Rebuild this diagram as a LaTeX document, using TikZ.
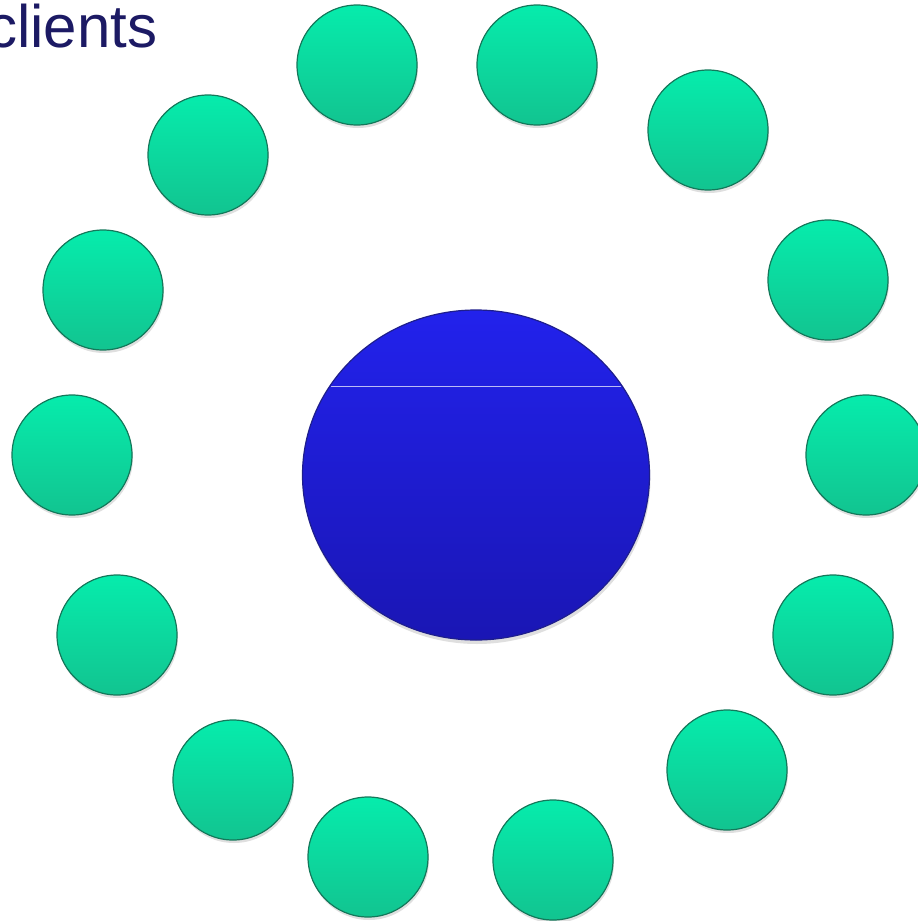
\documentclass[tikz,border=0pt]{standalone}
\usepackage{fontspec}
\setmainfont{Liberation Sans}
\usetikzlibrary{shapes.geometric,shadows}
\definecolor{navytext}{RGB}{28,26,100}
\definecolor{gtop}{RGB}{6,236,172}
\definecolor{gbot}{RGB}{18,196,144}
\definecolor{grim}{RGB}{20,120,90}
\definecolor{btop}{RGB}{34,34,236}
\definecolor{bbot}{RGB}{26,22,180}
\definecolor{brim}{RGB}{30,30,140}
\tikzset{
  gball/.style={circle, inner sep=0pt, minimum size=120pt, top color=gtop, bottom color=gbot,
    draw=grim, line width=1.2pt, drop shadow={opacity=0.25, shadow xshift=1pt, shadow yshift=-3pt}},
  bball/.style={ellipse, inner sep=0pt, minimum width=347pt, minimum height=330pt, top color=btop, bottom color=bbot,
    draw=brim, line width=1.2pt, drop shadow={opacity=0.25, shadow xshift=1pt, shadow yshift=-4pt}},
  titletext/.style={anchor=base west, inner sep=0pt, text=navytext, font=\fontsize{60}{60}\selectfont}
}
\begin{document}
\begin{tikzpicture}[x=1pt,y=-1pt]
\useasboundingbox (0,0) rectangle (918,921);
\node[titletext] (title) at (-13,47) {clients};
\node[bball] (srv) at (476,475) {};
\begin{scope}
\clip (476,475) ellipse [x radius=172pt, y radius=164pt];
\draw[white, opacity=0.7, line width=0.6pt] (300,386) -- (650,386);
\end{scope}
\node[gball] (c1) at (357,65) {};
\node[gball] (c2) at (537,65) {};
\node[gball] (c3) at (708,130) {};
\node[gball] (c4) at (828,280) {};
\node[gball] (c5) at (866,455) {};
\node[gball] (c6) at (833,635) {};
\node[gball] (c7) at (727,770) {};
\node[gball] (c8) at (553,860) {};
\node[gball] (c9) at (368,857) {};
\node[gball] (c10) at (233,780) {};
\node[gball] (c11) at (117,635) {};
\node[gball] (c12) at (72,455) {};
\node[gball] (c13) at (103,290) {};
\node[gball] (c14) at (208,155) {};
\end{tikzpicture}
\end{document}
